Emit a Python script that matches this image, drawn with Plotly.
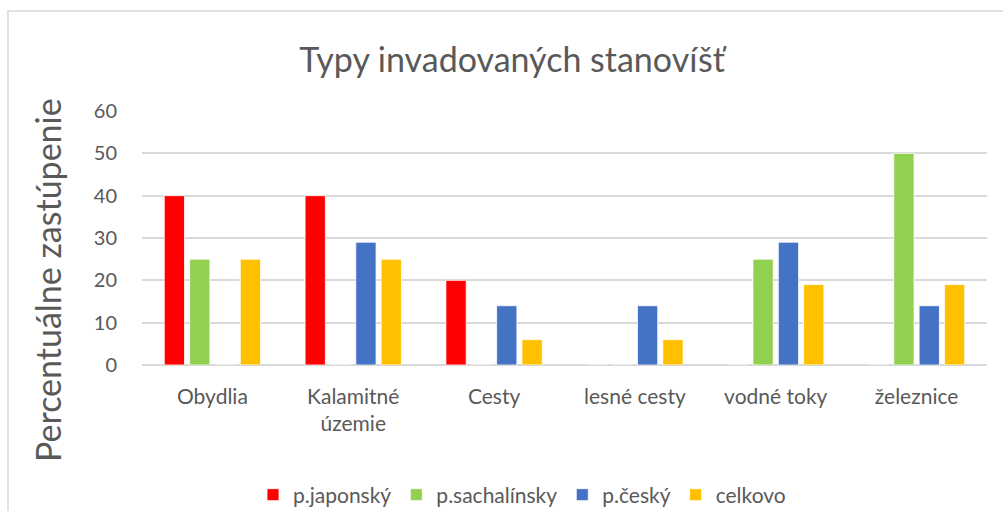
import plotly.graph_objects as go

categories = ["Obydlia", "Kalamitné<br>územie", "Cesty", "lesné cesty", "vodné toky", "železnice"]
series_names = ["p.japonský", "p.sachalínsky", "p.český", "celkovo"]
japonsky = [40, 40, 20, 0, 0, 0]
sachalinsky = [25, 0, 0, 0, 25, 50]
cesky = [0, 29, 14, 14, 29, 14]
celkovo = [25, 25, 6, 6, 19, 19]
colors = ["#FF0000", "#92D050", "#4472C4", "#FFC000"]
y_ticks = [0, 10, 20, 30, 40, 50, 60]

FONT = "Lato, 'Open Sans', sans-serif"
GRAY = "#595959"

fig = go.Figure()
for name, vals, col in zip(series_names, [japonsky, sachalinsky, cesky, celkovo], colors):
    fig.add_trace(go.Bar(x=categories, y=vals, name=name, marker_color=col,
                         marker_line=dict(color="rgba(255,255,255,0.8)", width=1)))

L, R, T, B = 142, 16, 111, 146
W, H = 1003, 511
pw, ph = W - L - R, H - T - B

fig.update_layout(
    width=W, height=H,
    margin=dict(l=L, r=R, t=T, b=B, autoexpand=False),
    paper_bgcolor="white", plot_bgcolor="white",
    barmode="group", bargap=0.28, bargroupgap=0.2,
    font=dict(family=FONT, color=GRAY, size=20),
    title=dict(text="Typy invadovaných stanovíšť", x=512 / W, xanchor="center",
               y=1 - 60 / H, yanchor="middle", font=dict(size=34, color=GRAY)),
    showlegend=True,
    legend=dict(orientation="h", x=(522 - L) / pw, xanchor="center",
                y=(H - B - 495) / ph, yanchor="middle", font=dict(size=21, color=GRAY),
                itemwidth=30, traceorder="normal"),
    xaxis=dict(showgrid=False, showline=False, ticks="", tickfont=dict(size=21, color=GRAY),
               ticklabelstandoff=17),
    yaxis=dict(range=[0, 60], tickvals=y_ticks, showgrid=True, gridcolor="#D9D9D9", gridwidth=2,
               zeroline=True, zerolinecolor="#D9D9D9", zerolinewidth=2, showline=False,
               ticks="", ticklabelstandoff=24, tickfont=dict(size=20, color=GRAY)),
    annotations=[dict(text="Percentuálne zastúpenie", textangle=-90, xref="paper", yref="paper",
                      x=(47 - L) / pw, y=(H - B - 280) / ph, xanchor="center", yanchor="middle",
                      showarrow=False, font=dict(size=34, color=GRAY))],
    shapes=[dict(type="rect", xref="paper", yref="paper",
                 x0=(8 - L) / pw, x1=(1010 - L) / pw, y0=(H - B - 520) / ph, y1=(H - B - 11) / ph,
                 line=dict(color="#D9D9D9", width=1.5), fillcolor="rgba(0,0,0,0)", layer="below")],
)

fig.write_html("out.html", config={"displayModeBar": False},
               post_script="document.body.style.margin='0';")
